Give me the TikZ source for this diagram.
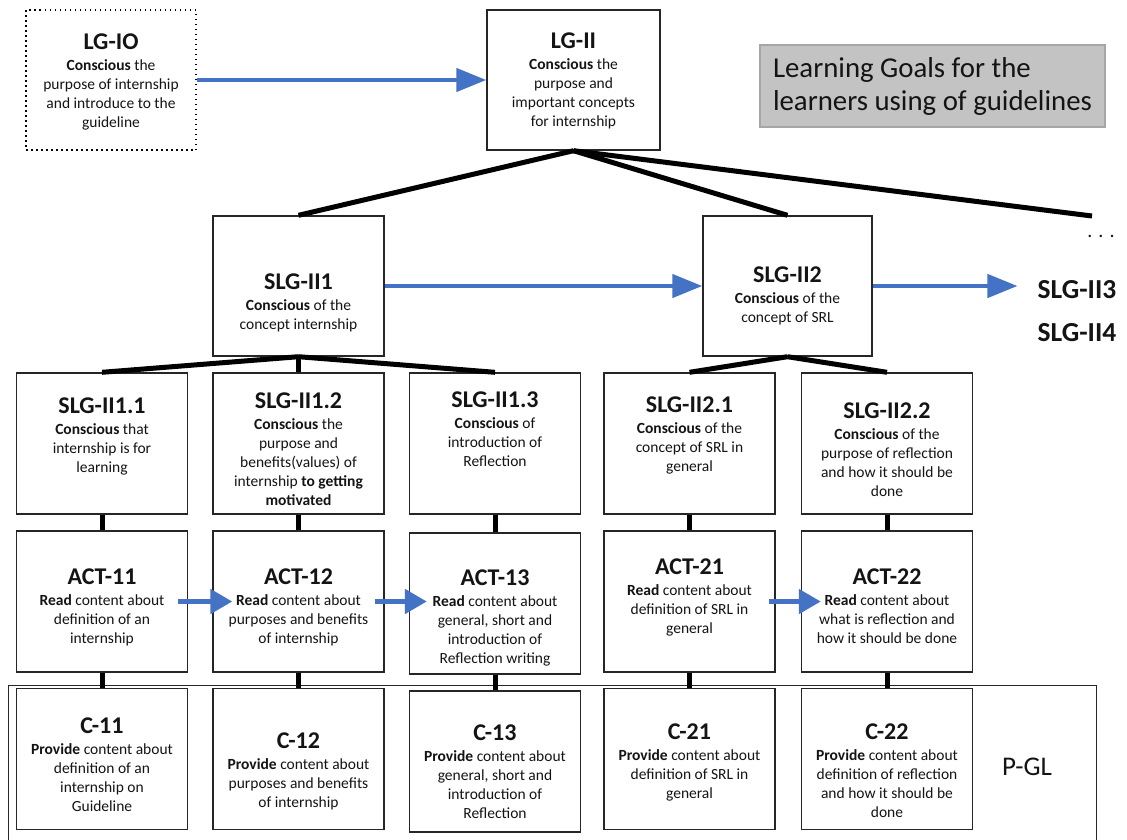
\documentclass[tikz,border=0pt]{standalone}
\usepackage{fontspec}
\setmainfont{Carlito}
\usetikzlibrary{arrows.meta,calc}
\definecolor{flowblue}{HTML}{4472C4}
\definecolor{edge}{HTML}{262626}
\definecolor{legendfill}{HTML}{C3C3C3}
\definecolor{legendline}{HTML}{A6A6A6}
\definecolor{ink}{HTML}{141414}
\newcommand\txtbody{\fontsize{15.5}{19}\selectfont}
\newcommand\txthead{\fontsize{24}{29}\selectfont\bfseries}
\newcommand\ttl[1]{{\txthead #1}\\[2pt]}

\begin{document}
\begin{tikzpicture}[x=1pt,y=-1pt,
  box/.style={draw=edge, line width=1.4pt, fill=white, inner sep=0pt,
              minimum width=171pt, minimum height=141pt},
  txt/.style={align=center, inner sep=0pt, anchor=north, font=\txtbody, text=ink},
  tie/.style={line width=5pt, draw=black},
  flow/.style={draw=flowblue, line width=4.5pt, -{Triangle[length=30pt,width=23pt]}},
  hop/.style={draw=flowblue, line width=5pt, -{Triangle[length=22pt,width=24pt]}},
  sidehead/.style={font=\fontsize{27.5}{32}\selectfont\bfseries, text=ink, inner sep=0pt},
]
\useasboundingbox (0,0) rectangle (1127,839);

% frame of the guideline part (open at the bottom of the page)
\node[draw=edge, line width=1.3pt, inner sep=0pt, minimum width=1088pt,
      minimum height=190pt, anchor=north west] (pglframe) at (8,685) {};
\node[font=\fontsize{27}{32}\selectfont, text=ink, inner sep=0pt] (pgl) at (1027,767) {P-GL};

% legend
\node[draw=legendline, line width=1.3pt, fill=legendfill, minimum width=345pt,
      minimum height=82pt, inner sep=0pt, align=left,
      font=\fontsize{28.8}{33}\selectfont, text=ink] (legend) at (932.5,86)
  {Learning Goals for the\\learners using of guidelines};

% goal boxes
\node[box, draw=black, dash pattern=on 1.5pt off 3.5pt, minimum width=170pt,
      minimum height=140pt] (lgio) at (111,80) {};
\node[box, minimum width=173pt, minimum height=140pt] (lgii) at (573.5,80) {};
\node[box, minimum height=140pt] (slg1) at (298.5,286) {};
\node[box, minimum width=169pt, minimum height=140pt] (slg2) at (787.5,286) {};

% sub goals
\node[box] (s11) at (102,443.5) {};
\node[box] (s12) at (298.5,443.5) {};
\node[box] (s13) at (495,443.5) {};
\node[box] (s21) at (689.5,443.5) {};
\node[box] (s22) at (887,443.5) {};

% activities
\node[box] (a11) at (102,601.5) {};
\node[box] (a12) at (298.5,601.5) {};
\node[box] (a13) at (495,603.5) {};
\node[box] (a21) at (689.5,601.5) {};
\node[box] (a22) at (887,601.5) {};

% contents
\node[box] (c11) at (102,759) {};
\node[box] (c12) at (298.5,759) {};
\node[box] (c13) at (495,761.5) {};
\node[box] (c21) at (689.5,759) {};
\node[box] (c22) at (887,759) {};

% side labels
\node[sidehead] (slg3) at (1077,290) {SLG-II3};
\node[sidehead] (slg4) at (1077,333) {SLG-II4};
\node[font=\fontsize{20}{24}\selectfont, text=ink, inner sep=0pt] (dots) at (1101,236) {. . .};
\coordinate (more) at (1092,216);

% tree connectors
\draw[tie] (lgii.south) -- (slg1.north);
\draw[tie] (lgii.south) -- (slg2.north);
\draw[tie] (lgii.south) -- (more);
\foreach \u/\l in {slg1/s11, slg1/s12, slg1/s13, slg2/s21, slg2/s22,
                   s11/a11, s12/a12, s13/a13, s21/a21, s22/a22,
                   a11/c11, a12/c12, a13/c13, a21/c21, a22/c22}
  \draw[tie] (\u.south) -- (\l.north);

% texts
\node[txt] (lgio-t) at (111,33.4) {\ttl{LG-IO}\textbf{Conscious} the\\purpose of internship\\and introduce to the\\guideline};
\node[txt] (lgii-t) at (573.5,32.4) {\ttl{LG-II}\textbf{Conscious} the\\purpose and\\important concepts\\for internship};
\node[txt] (slg1-t) at (298.5,273.4) {\ttl{SLG-II1}\textbf{Conscious} of the\\concept internship};
\node[txt] (slg2-t) at (787.5,266.4) {\ttl{SLG-II2}\textbf{Conscious} of the\\concept of SRL};

\node[txt] (s11-t) at (102,397.4) {\ttl{SLG-II1.1}\textbf{Conscious} that\\internship is for\\learning};
\node[txt] (s12-t) at (298.5,392.4) {\ttl{SLG-II1.2}\textbf{Conscious} the\\purpose and\\benefits(values) of\\internship \textbf{to getting}\\\textbf{motivated}};
\node[txt] (s13-t) at (495,391.4) {\ttl{SLG-II1.3}\textbf{Conscious} of\\introduction of\\Reflection};
\node[txt] (s21-t) at (689.5,396.4) {\ttl{SLG-II2.1}\textbf{Conscious} of the\\concept of SRL in\\general};
\node[txt] (s22-t) at (887,402.4) {\ttl{SLG-II2.2}\textbf{Conscious} of the\\purpose of reflection\\and how it should be\\done};

\node[txt] (a11-t) at (102,568.4) {\ttl{ACT-11}\textbf{Read} content about\\definition of an\\internship};
\node[txt] (a12-t) at (298.5,568.4) {\ttl{ACT-12}\textbf{Read} content about\\purposes and benefits\\of internship};
\node[txt] (a13-t) at (495,569.4) {\ttl{ACT-13}\textbf{Read} content about\\general, short and\\introduction of\\Reflection writing};
\node[txt] (a21-t) at (689.5,558.4) {\ttl{ACT-21}\textbf{Read} content about\\definition of SRL in\\general};
\node[txt] (a22-t) at (887,568.4) {\ttl{ACT-22}\textbf{Read} content about\\what is reflection and\\how it should be done};

\node[txt] (c11-t) at (102,717.4) {\ttl{C-11}\textbf{Provide} content about\\definition of an\\internship on\\Guideline};
\node[txt] (c12-t) at (298.5,732.4) {\ttl{C-12}\textbf{Provide} content about\\purposes and benefits\\of internship};
\node[txt] (c13-t) at (495,724.4) {\ttl{C-13}\textbf{Provide} content about\\general, short and\\introduction of\\Reflection};
\node[txt] (c21-t) at (689.5,723.4) {\ttl{C-21}\textbf{Provide} content about\\definition of SRL in\\general};
\node[txt] (c22-t) at (887,723.4) {\ttl{C-22}\textbf{Provide} content about\\definition of reflection\\and how it should be\\done};

% flow arrows
\draw[flow] (lgio.east) -- (lgii.west);
\draw[flow] (slg1.east) -- (slg2.west);
\draw[flow, shorten >=20pt] (slg2.east) -- (slg2.east -| slg3.west);
\draw[hop] ($(a11.east)+(-10,0)$) -- ($(a12.west)+(20,0)$);
\draw[hop] ($(a12.east)+(-10,0)$) -- ($(a12.east -| a13.west)+(18,0)$);
\draw[hop] ($(a21.east)+(-7,0)$) -- ($(a22.west)+(20,0)$);
\end{tikzpicture}
\end{document}
